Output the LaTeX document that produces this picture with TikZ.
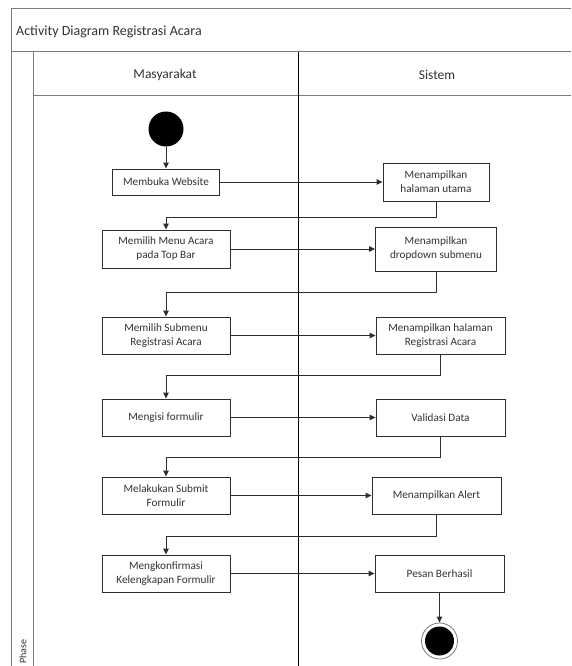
\documentclass[tikz,border=0pt]{standalone}
\usepackage{fontspec}
\setmainfont{Carlito}
\usetikzlibrary{arrows.meta}
\definecolor{framec}{HTML}{7A7A7A}
\definecolor{linec}{HTML}{2E2E2E}
\definecolor{textc}{HTML}{333333}
\tikzset{
  act/.style={draw=linec, line width=0.9pt, fill=white, inner sep=1pt, align=center,
     font=\fontsize{11.2}{14}\selectfont, text=textc},
  flow/.style={draw=linec, line width=0.9pt, -{Triangle[width=5.5pt,length=6pt]}},
  frame/.style={draw=framec, line width=1pt},
  lane/.style={draw=black, line width=1pt},
}
\begin{document}
\begin{tikzpicture}[x=1pt,y=-1pt]
\useasboundingbox (0,0) rectangle (571,666);
\fill[white] (0,0) rectangle (571,666);
% frame
\draw[frame] (571,9) -- (11,9) -- (11,667);
\draw[frame] (11,52) -- (571,52);
\draw[frame] (33,52) -- (33,667);
\draw[frame] (33,96) -- (571,96);
\draw[lane] (298,52) -- (298,667);
\node[anchor=west, font=\fontsize{14}{16}\selectfont, text=textc, inner sep=0] (title) at (16,32) {Activity Diagram Registrasi Acara};
\node[font=\fontsize{13.5}{16}\selectfont, text=textc] (h1) at (165,75) {Masyarakat};
\node[font=\fontsize{13.5}{16}\selectfont, text=textc] (h2) at (437,75) {Sistem};
\node[rotate=90, anchor=west, inner sep=0, font=\fontsize{10}{12}\selectfont, text=textc] (phase) at (23,664) {Phase};
% nodes
\node[circle, fill=black, minimum size=35pt, inner sep=0] (start) at (166,129) {};
\node[act, minimum width=107pt, minimum height=26pt] (a1) at (166,182) {Membuka Website};
\node[act, minimum width=106pt, minimum height=38pt] (b1) at (436,182) {Menampilkan\\halaman utama};
\node[act, minimum width=128pt, minimum height=38pt] (a2) at (166,249) {Memilih Menu Acara\\pada Top Bar};
\node[act, minimum width=121pt, minimum height=44pt] (b2) at (436,249) {Menampilkan\\dropdown submenu};
\node[act, minimum width=128pt, minimum height=37pt] (a3) at (166,335.5) {Memilih Submenu\\Registrasi Acara};
\node[act, minimum width=129pt, minimum height=37pt] (b3) at (440.5,335.5) {Menampilkan halaman\\Registrasi Acara};
\node[act, minimum width=128pt, minimum height=37pt] (a4) at (166,417.5) {Mengisi formulir};
\node[act, minimum width=129pt, minimum height=37pt] (b4) at (440.5,417.5) {Validasi Data};
\node[act, minimum width=128pt, minimum height=37pt] (a5) at (166,495.5) {Melakukan Submit\\Formulir};
\node[act, minimum width=129pt, minimum height=37pt] (b5) at (436.5,495.5) {Menampilkan Alert};
\node[act, minimum width=128pt, minimum height=37pt] (a6) at (166,573.5) {Mengkonfirmasi\\Kelengkapan Formulir};
\node[act, minimum width=129pt, minimum height=37pt] (b6) at (439.5,573.5) {Pesan Berhasil};
\node[circle, draw=framec, line width=0.8pt, fill=white, minimum size=36pt, inner sep=0] (end) at (439.5,641) {};
\node[circle, fill=black, minimum size=29pt, inner sep=0] (endin) at (439.5,641) {};
% turn levels
\coordinate (k1) at (0,217);
\coordinate (k2) at (0,292);
\coordinate (k3) at (0,375);
\coordinate (k4) at (0,457);
\coordinate (k5) at (0,536);
% connectors
\draw[flow] (start) -- (a1);
\draw[flow] (a1) -- (b1);
\draw[flow] (a2) -- (b2);
\draw[flow] (a3) -- (b3);
\draw[flow] (a4) -- (b4);
\draw[flow] (a5) -- (b5);
\draw[flow] (a6) -- (b6);
\draw[flow] (b1.south) -- (b1.south |- k1) -| (a2.north);
\draw[flow] (b2.south) -- (b2.south |- k2) -| (a3.north);
\draw[flow] (b3.south) -- (b3.south |- k3) -| (a4.north);
\draw[flow] (b4.south) -- (b4.south |- k4) -| (a5.north);
\draw[flow] (b5.south) -- (b5.south |- k5) -| (a6.north);
\draw[flow] (b6) -- (end);
\end{tikzpicture}
\end{document}
